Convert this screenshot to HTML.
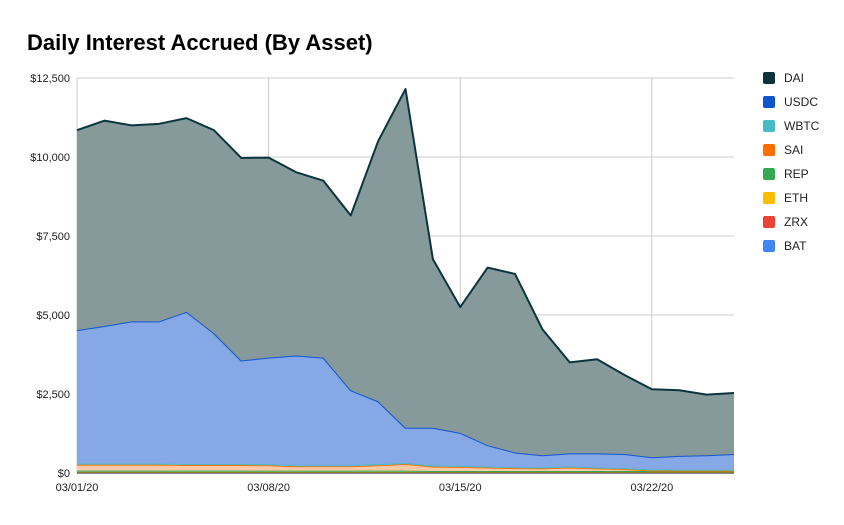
<!DOCTYPE html>
<html><head><meta charset="utf-8">
<style>
body{margin:0;background:#fff;font-family:"Liberation Sans",Arial,sans-serif;}
svg text{font-family:"Liberation Sans",Arial,sans-serif;}
</style></head>
<body>
<svg id="chart" width="844" height="520" viewBox="0 0 844 520" xmlns="http://www.w3.org/2000/svg">
<rect width="844" height="520" fill="#fff"/>
<text x="27" y="50" font-size="22" font-weight="bold" fill="#000">Daily Interest Accrued (By Asset)</text>
<g id="grid"></g><g id="areas"></g><g id="axes"></g><g id="legend"></g>
</svg>
<script>
const dates=["03/01/20","03/02/20","03/03/20","03/04/20","03/05/20","03/06/20","03/07/20","03/08/20","03/09/20","03/10/20","03/11/20","03/12/20","03/13/20","03/14/20","03/15/20","03/16/20","03/17/20","03/18/20","03/19/20","03/20/20","03/21/20","03/22/20","03/23/20","03/24/20","03/25/20"];
const xTickLabels=["03/01/20","03/08/20","03/15/20","03/22/20"];
const yTicks=[0,2500,5000,7500,10000,12500];
const yTickLabels=["$0","$2,500","$5,000","$7,500","$10,000","$12,500"];
const bat=[10,10,10,10,10,10,10,10,10,10,10,10,10,10,10,10,10,10,10,10,10,10,10,10,10];
const zrx=[10,10,10,10,10,10,10,10,10,10,10,10,10,10,10,10,10,10,10,10,10,10,10,10,10];
const eth=[15,15,15,15,15,15,15,15,15,15,15,15,15,15,15,15,15,15,15,15,15,15,15,15,15];
const rep=[40,40,40,40,40,40,40,40,40,40,40,40,40,30,30,30,30,30,30,30,30,30,30,30,30];
const sai=[190,190,190,190,180,180,180,170,140,140,140,170,210,140,130,110,90,80,110,80,60,20,10,10,10];
const wbtc=[30,30,30,30,30,30,30,30,30,30,30,30,30,30,30,30,30,30,30,30,30,30,30,30,30];
const usdc=[4225,4355,4505,4505,4815,4145,3275,3375,3475,3405,2375,1995,1115,1195,1045,675,465,385,415,445,445,385,435,455,495];
const dai=[6330,6500,6200,6250,6130,6420,6410,6330,5800,5600,5530,8230,10720,5340,3980,5620,5650,3990,2880,2980,2500,2150,2080,1920,1930];
const seriesNames=["BAT","ZRX","ETH","REP","SAI","WBTC","USDC","DAI"];
const seriesData=[bat,zrx,eth,rep,sai,wbtc,usdc,dai];
const lineColors=["#4285f4","#ea4335","#fbbc04","#34a853","#ff6d01","#46bdc6","#1155cc","#0c343d"];
const fillColors=["#a0c2f9","#f4a19a","#fdddb0","#99d3a9","#ffc9a8","#a2dee2","#86a8e6","#879a9b"];

const NS="http://www.w3.org/2000/svg";
const X0=77,X1=734,Y0=473,Y1=78,YMAX=12500;
const xs=i=>X0+(X1-X0)*i/(dates.length-1);
const ys=v=>Y0-(Y0-Y1)*v/YMAX;
function mk(tag,attrs,parent){const e=document.createElementNS(NS,tag);for(const k in attrs)e.setAttribute(k,attrs[k]);parent.appendChild(e);return e;}
const grid=document.getElementById('grid'),areas=document.getElementById('areas'),axes=document.getElementById('axes'),legend=document.getElementById('legend');

yTicks.forEach((t,i)=>{
  const l=mk('line',{x1:X0,x2:X1,y1:ys(t),y2:ys(t),stroke:i==0?'#333':'#ccc','stroke-width':1},grid);
  
  
  const tx=mk('text',{x:70,y:ys(t)+4,'text-anchor':'end','font-size':11,fill:'#222'},axes);
  tx.textContent=yTickLabels[i];
  
  
});
xTickLabels.forEach(lbl=>{
  const i=dates.indexOf(lbl);
  const l=mk('line',{x1:xs(i),x2:xs(i),y1:Y1,y2:Y0,stroke:'#ccc','stroke-width':1},grid);
  
  
  const tx=mk('text',{x:xs(i),y:491,'text-anchor':'middle','font-size':11,fill:'#222'},axes);
  tx.textContent=lbl;
  
  
});

let base=dates.map(()=>0);
seriesData.forEach((arr,s)=>{
  const top=base.map((b,i)=>b+arr[i]);
  let d='M'+top.map((v,i)=>xs(i)+','+ys(v)).join(' L');
  for(let i=dates.length-1;i>=0;i--)d+=' L'+xs(i)+','+ys(base[i]);
  d+='Z';
  const p=mk('path',{d:d,fill:fillColors[s],stroke:'none'},areas);
  
  
  const ln=mk('polyline',{points:top.map((v,i)=>xs(i)+','+ys(v)).join(' '),fill:'none',stroke:lineColors[s],'stroke-width':2,'stroke-linejoin':'round'},areas);
  
  
  base=top;
});
// re-draw axis baseline on top
const bl=mk('line',{x1:X0,x2:X1,y1:Y0,y2:Y0,stroke:'#333','stroke-width':1},axes);



const legendOrder=["DAI","USDC","WBTC","SAI","REP","ETH","ZRX","BAT"];
legendOrder.forEach((n,k)=>{
  const s=seriesNames.indexOf(n);
  const g=mk('g',{},legend);
  
  
  const y=78+k*24;
  mk('rect',{x:763,y:y-6,width:12,height:12,rx:2,fill:lineColors[s]},g);
  const t=mk('text',{x:784,y:y+4,'font-size':12,fill:'#222'},g);
  t.textContent=n;
});
</script>
</body></html>
